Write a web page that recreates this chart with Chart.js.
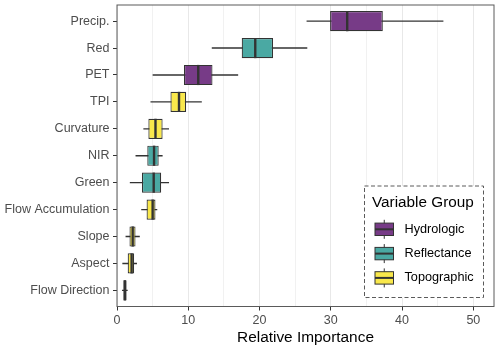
<!DOCTYPE html>
<html>
<head>
<meta charset="utf-8">
<script src="https://cdn.jsdelivr.net/npm/chart.js@4.4.1/dist/chart.umd.min.js"></script>
<style>
  html, body { margin: 0; padding: 0; background: #fff; }
  #wrap { width: 500px; height: 348px; }
</style>
</head>
<body>
<div id="wrap"><canvas id="chart"></canvas></div>
<script>
const categories = ['Precip.', 'Red', 'PET', 'TPI', 'Curvature', 'NIR', 'Green',
  'Flow Accumulation', 'Slope', 'Aspect', 'Flow Direction'];
const groups = ['Hydrologic', 'Reflectance', 'Hydrologic', 'Topographic', 'Topographic',
  'Reflectance', 'Reflectance', 'Topographic', 'Topographic', 'Topographic', 'Topographic'];
const whiskerLow = [26.6, 13.3, 5.0, 4.7, 3.7, 2.6, 1.8, 3.4, 1.2, 0.75, 0.7];
const q1 = [29.9, 17.5, 9.4, 7.5, 4.4, 4.25, 3.5, 4.15, 1.75, 1.5, 0.9];
const median = [32.3, 19.4, 11.4, 8.7, 5.4, 5.2, 5.15, 5.0, 2.2, 2.05, 1.1];
const q3 = [37.3, 21.9, 13.4, 9.7, 6.4, 5.85, 6.2, 5.4, 2.6, 2.4, 1.35];
const whiskerHigh = [45.8, 26.7, 17.0, 11.9, 7.3, 6.4, 7.3, 5.65, 3.2, 2.8, 1.5];

const groupNames = ['Hydrologic', 'Reflectance', 'Topographic'];
const groupColors = ['#773b87', '#4aa9a3', '#f9e84b'];
const xTicks = [0, 10, 20, 30, 40, 50];
const xGrid = [0, 5, 10, 15, 20, 25, 30, 35, 40, 45, 50];

const FONT = "'Liberation Sans', Arial, sans-serif";
const DARK = '#333333';

const boxColors = groups.map(g => groupColors[groupNames.indexOf(g)]);

const medianPlugin = {
  id: 'medians',
  afterDatasetsDraw(chart) {
    const { ctx, scales: { x } } = chart;
    const bars = chart.getDatasetMeta(0).data;
    ctx.save();
    ctx.strokeStyle = DARK;
    ctx.lineWidth = 2.4;
    bars.forEach((bar, i) => {
      const px = x.getPixelForValue(median[i]);
      ctx.beginPath();
      ctx.moveTo(px, bar.y - bar.height / 2);
      ctx.lineTo(px, bar.y + bar.height / 2);
      ctx.stroke();
    });
    ctx.restore();
  },
};

const panelBorderPlugin = {
  id: 'panelBorder',
  afterDatasetsDraw(chart) {
    const { ctx, chartArea: a } = chart;
    ctx.save();
    ctx.strokeStyle = '#5a5a5a';
    ctx.lineWidth = 1;
    ctx.strokeRect(a.left, a.top, a.right - a.left, a.bottom - a.top);
    ctx.restore();
  },
};

const legendPlugin = {
  id: 'groupLegend',
  afterDraw(chart) {
    const { ctx, chartArea: a } = chart;
    const right = a.right - 10.5;
    const bottom = a.bottom - 9;
    const w = 119, h = 111.5;
    const left = right - w, top = bottom - h;
    ctx.save();
    ctx.fillStyle = '#fff';
    ctx.fillRect(left, top, w, h);
    ctx.setLineDash([4, 2.5]);
    ctx.strokeStyle = '#5a5a5a';
    ctx.lineWidth = 1;
    ctx.strokeRect(left, top, w, h);
    ctx.setLineDash([]);

    ctx.fillStyle = '#000';
    ctx.textBaseline = 'middle';
    ctx.textAlign = 'left';
    ctx.font = `15.3px ${FONT}`;
    ctx.fillText('Variable Group', left + 7.5, top + 17);

    ctx.font = `12.7px ${FONT}`;
    groupNames.forEach((name, k) => {
      const cy = top + 43.3 + k * 24.3;
      const bx = left + 10.5, bw = 18.5, bh = 12.4;
      ctx.strokeStyle = DARK;
      ctx.lineWidth = 1;
      ctx.beginPath();
      ctx.moveTo(bx + bw / 2, cy - 9.5);
      ctx.lineTo(bx + bw / 2, cy + 9.5);
      ctx.stroke();
      ctx.fillStyle = groupColors[k];
      ctx.fillRect(bx, cy - bh / 2, bw, bh);
      ctx.strokeRect(bx, cy - bh / 2, bw, bh);
      ctx.lineWidth = 2;
      ctx.beginPath();
      ctx.moveTo(bx, cy);
      ctx.lineTo(bx + bw, cy);
      ctx.stroke();
      ctx.fillStyle = '#000';
      ctx.fillText(name, left + 40, cy);
    });
    ctx.restore();
  },
};

const ctx = document.getElementById('chart').getContext('2d');
new Chart(ctx, {
  type: 'bar',
  data: {
    datasets: [
      {
        label: 'box',
        data: categories.map((c, i) => ({ y: i, x: [q1[i], q3[i]] })),
        backgroundColor: boxColors,
        borderColor: DARK,
        borderWidth: 1.2,
        borderSkipped: false,
        grouped: false,
        barPercentage: 0.75,
        categoryPercentage: 1,
      },
      {
        label: 'whisker',
        data: categories.map((c, i) => ({ y: i, x: [whiskerLow[i], whiskerHigh[i]] })),
        backgroundColor: DARK,
        borderWidth: 0,
        grouped: false,
        maxBarThickness: 1.4,
      },
    ],
  },
  options: {
    indexAxis: 'y',
    responsive: true,
    maintainAspectRatio: false,
    animation: false,
    devicePixelRatio: 1,
    layout: { padding: { top: 5, right: 6, left: 0, bottom: 0 } },
    plugins: {
      legend: { display: false },
      tooltip: { enabled: false },
    },
    scales: {
      x: {
        type: 'linear',
        min: 0,
        max: 52.9,
        afterBuildTicks: scale => { scale.ticks = xGrid.map(v => ({ value: v })); },
        afterFit: scale => {
          scale.height = 41.5;
          scale.paddingLeft = 0;
          scale.paddingRight = 0;
        },
        ticks: {
          autoSkip: false,
          maxRotation: 0,
          padding: 3,
          color: '#4d4d4d',
          font: { family: FONT, size: 12.5 },
          callback: v => (xTicks.includes(v) ? String(v) : ''),
        },
        grid: {
          color: c => (c.tick && c.tick.value % 10 === 0 ? '#e8e8e8' : '#f1f1f1'),
          tickColor: c => (c.tick && c.tick.value % 10 === 0 ? DARK : 'rgba(0,0,0,0)'),
          tickLength: 4,
        },
        border: { display: false },
        title: {
          display: true,
          text: 'Relative Importance',
          color: '#000',
          font: { family: FONT, size: 15.4 },
          padding: { top: 0, bottom: 1.5 },
        },
      },
      y: {
        type: 'linear',
        reverse: true,
        offset: false,
        min: -0.6,
        max: 10.6,
        afterBuildTicks: scale => { scale.ticks = categories.map((c, i) => ({ value: i })); },
        afterFit: scale => {
          scale.width = 117;
          scale.paddingTop = 0;
          scale.paddingBottom = 0;
        },
        ticks: {
          autoSkip: false,
          padding: 3.5,
          color: '#4d4d4d',
          font: { family: FONT, size: 12.5 },
          callback: v => categories[v],
        },
        grid: {
          offset: false,
          drawOnChartArea: false,
          tickColor: DARK,
          tickLength: 4,
        },
        border: { display: false },
      },
    },
  },
  plugins: [medianPlugin, panelBorderPlugin, legendPlugin],
});
</script>
</body>
</html>
